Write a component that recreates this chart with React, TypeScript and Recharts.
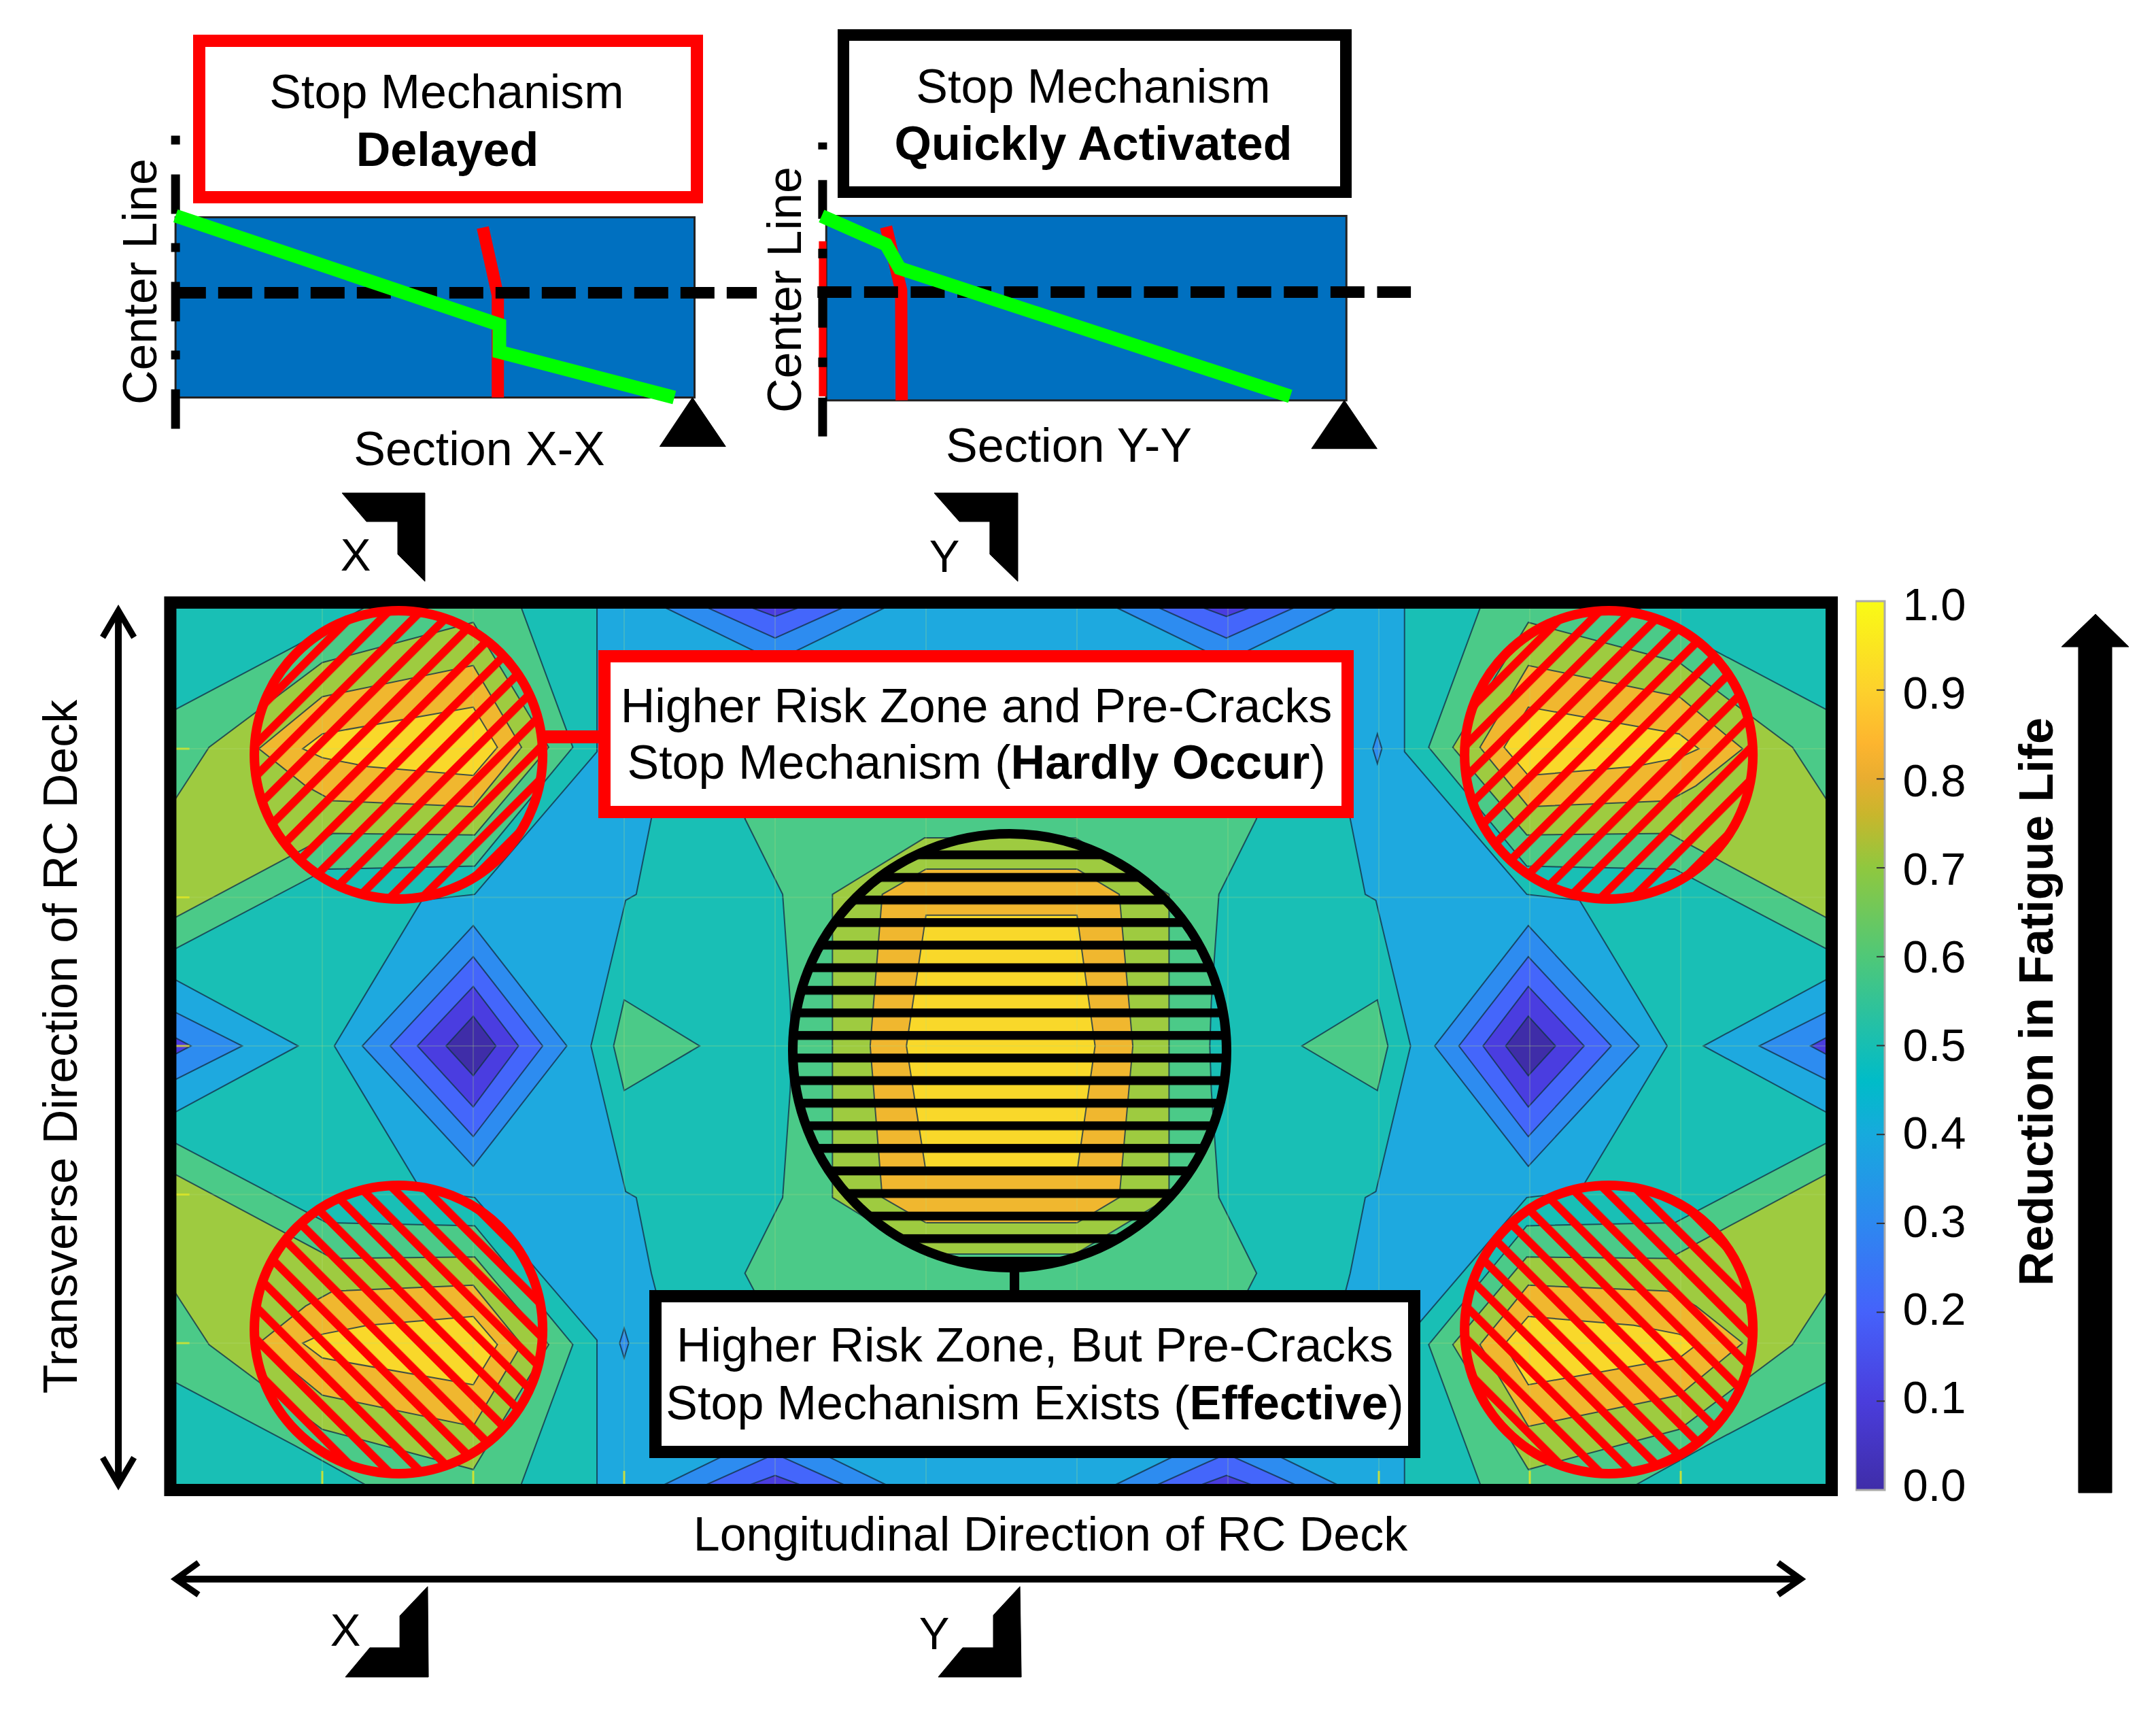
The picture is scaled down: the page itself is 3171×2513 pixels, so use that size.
import { Bar, BarChart, Scatter, ScatterChart, XAxis, YAxis } from "recharts"

type Pt = [number, number]

// contour map is read in grid cells: x = column of the FE mesh, y = row from deck centre
const X_DOMAIN: Pt = [-1.13514, 13.14865]
const Y_DOMAIN: Pt = [-4.46224, 7.0389]
const MID_COL = 10.99

const plotArea: Pt[] = [[0, 3], [MID_COL, 3], [MID_COL, -3], [0, -3]]

const skyBand: Pt[] = [
  [2.82, 3], [2.82, 1.98], [2.01, 1.02], [1.66, 0.98], [1.08, 0], [1.66, -0.98], [2.01, -1.02], [2.82, -1.98], [2.82, -3],
  [8.17, -3], [8.17, -1.98], [8.98, -1.02], [9.33, -0.98], [9.91, 0], [9.33, 0.98], [8.98, 1.02], [8.17, 1.98], [8.17, 3],
]
const midPocket: Pt[] = [
  [2.78, 0], [3.01, 0.98], [3.08, 1.02], [3.18, 1.53], [3.35, 2.2], [3.7, 2.5], [7.29, 2.5], [7.64, 2.2], [7.81, 1.53], [7.91, 1.02], [7.98, 0.98], [8.21, 0],
  [7.98, -0.98], [7.91, -1.02], [7.81, -1.53], [7.64, -2.2], [7.29, -2.5], [3.7, -2.5], [3.35, -2.2], [3.18, -1.53], [3.08, -1.02], [3.01, -0.98],
]
const midGreen: Pt[] = [
  [3.8, 1.53], [4.05, 1.02], [4.1, 0.3], [4.11, 0], [4.1, -0.3], [4.05, -1.02], [3.8, -1.53], [4.2, -2.3], [6.8, -2.3], [7.19, -1.53],
  [6.94, -1.02], [6.89, -0.3], [6.88, 0], [6.89, 0.3], [6.94, 1.02], [7.19, 1.53], [6.8, 2.3], [4.2, 2.3],
]
const midOlive: Pt[] = [[4.38, 1.02], [4.99, 1.4], [5.99, 1.4], [6.61, 1.02], [6.61, -1.02], [5.99, -1.4], [4.99, -1.4], [4.38, -1.02]]
const midOrange: Pt[] = [[5, 1.19], [6, 1.19], [6.28, 1.02], [6.37, 0], [6.28, -1.02], [6, -1.19], [5, -1.19], [4.71, -1.02], [4.63, 0], [4.71, 1.02]]
const midYellow: Pt[] = [[5, 0.88], [6, 0.88], [6.12, 0], [6, -0.85], [5, -0.85], [4.87, 0]]
const sideGreen: Pt[] = [[3, 0.31], [3.5, 0], [3, -0.3], [2.93, 0]]
const smallDot: Pt[] = [[2.97, -2], [3, -1.9], [3.03, -2], [3, -2.1]]

const diamondBlue: Pt[] = [[1.265, 0], [2, 0.81], [2.62, 0], [2, -0.81]]
const diamondIndigo: Pt[] = [[1.45, 0], [2, 0.6], [2.46, 0], [2, -0.61]]
const diamondViolet: Pt[] = [[1.63, 0], [2, 0.4], [2.3, 0], [2, -0.41]]
const diamondDark: Pt[] = [[1.82, 0], [2, 0.2], [2.15, 0], [2, -0.2]]

const cornerGreen: Pt[] = [[0, 2.25], [0.82, 2.69], [1.37, 3], [2.3, 3], [2.62, 2.12], [2.66, 2.01], [2.01, 1.21], [1.03, 1.19], [0, 0.64]]
const cornerOlive: Pt[] = [[0, 1.62], [0.25, 2.01], [1, 2.58], [2, 2.85], [2.5, 2.01], [2.01, 1.42], [1.07, 1.43], [0, 0.85]]
const cornerOrange: Pt[] = [[0.58, 2], [1, 2.35], [2, 2.56], [2.32, 2.01], [2, 1.61], [1.07, 1.65], [0.89, 1.75]]
const cornerYellow: Pt[] = [[0.87, 2], [1, 2.1], [2, 2.28], [2.16, 2.01], [2, 1.82], [1.3, 1.88], [1, 1.94]]

const edgeSky: Pt[] = [[0, 0.46], [0.84, 0], [0, -0.46]]
const edgeBlue: Pt[] = [[0, 0.24], [0.47, 0], [0, -0.24]]
const edgeIndigo: Pt[] = [[0, 0.07], [0.13, 0], [0, -0.07]]
const rimBlue: Pt[] = [[3.17, 3], [4, 2.59], [4.83, 3]]
const rimIndigo: Pt[] = [[3.44, 3], [4, 2.745], [4.56, 3]]
const rimViolet: Pt[] = [[3.71, 3], [4, 2.89], [4.29, 3]]

const gridCols = [1, 2, 3, 4, 5, 6, 7, 8, 9, 10]
const gridRows = [2, 1, 0, -1, -2]

const riskCentres: { x: number; y: number; hatch: string }[] = [
  { x: 1.505, y: 1.959, hatch: "url(#hatchUpL)" },
  { x: 9.523, y: 1.959, hatch: "url(#hatchUpR)" },
  { x: 1.505, y: -1.908, hatch: "url(#hatchDownL)" },
  { x: 9.523, y: -1.908, hatch: "url(#hatchDownR)" },
]
const stopCentre = { x: 5.554, y: -0.032 }

const frame: Pt[] = [[-0.007, 2.984], [11, 2.984], [11, -2.988], [-0.007, -2.988]]
const redLink: Pt[] = [[2.47, 2.08], [2.9, 2.08]]
const blackLink: Pt[] = [[5.586, -1.474], [5.586, -1.66]]

const markerTopX: Pt[] = [[1.131, 3.721], [1.68, 3.721], [1.68, 3.126], [1.5, 3.309], [1.5, 3.529], [1.293, 3.529]]
const markerTopY: Pt[] = [[5.054, 3.721], [5.608, 3.721], [5.608, 3.126], [5.423, 3.309], [5.423, 3.529], [5.221, 3.529]]
const markerBottomX: Pt[] = [[1.698, -3.638], [1.703, -4.247], [1.153, -4.247], [1.315, -4.05], [1.514, -4.05], [1.514, -3.835]]
const markerBottomY: Pt[] = [[5.622, -3.638], [5.631, -4.247], [5.081, -4.247], [5.243, -4.05], [5.446, -4.05], [5.446, -3.831]]

const lengthShaft: Pt[] = [[0.04, -3.588], [10.79, -3.588]]
const lengthHeadL: Pt[] = [[0.18, -3.478], [0.03, -3.588], [0.18, -3.693]]
const lengthHeadR: Pt[] = [[10.645, -3.478], [10.795, -3.588], [10.645, -3.693]]
const widthShaft: Pt[] = [[-0.351, 2.9], [-0.351, -2.92]]
const widthHeadT: Pt[] = [[-0.455, 2.75], [-0.351, 2.93], [-0.247, 2.75]]
const widthHeadB: Pt[] = [[-0.455, -2.77], [-0.351, -2.95], [-0.247, -2.77]]
const lifeArrow: Pt[] = [[12.635, -3.007], [12.635, 2.686], [12.523, 2.686], [12.748, 2.906], [12.968, 2.686], [12.856, 2.686], [12.856, -3.007]]

// beam sections: x = fraction of the half span, y = fraction of the deck depth
const deckShape: Pt[] = [[0, 0], [1, 0], [1, 1], [0, 1]]
const sectionXGreen: Pt[] = [[0, 1.008], [0.624, 0.404], [0.624, 0.253], [0.961, 0]]
const sectionXRed: Pt[] = [[0.592, 0.943], [0.621, 0.566], [0.621, 0]]
const sectionXMid: Pt[] = [[-0.007, 0.581], [1.12, 0.581]]
const sectionXAxis: Pt[] = [[0, -0.174], [0, 1.453]]
const sectionXSupport: Pt[] = [[0.996, 0], [0.933, -0.272], [1.06, -0.272]]

const sectionYGreen: Pt[] = [[-0.009, 1], [0.115, 0.845], [0.141, 0.716], [0.892, 0.022]]
const sectionYRed: Pt[] = [[0.115, 0.941], [0.144, 0.598], [0.145, 0]]
const sectionYEdge: Pt[] = [[-0.007, 0.863], [-0.007, 0.022]]
const sectionYMid: Pt[] = [[-0.017, 0.587], [1.124, 0.587]]
const sectionYAxis: Pt[] = [[-0.007, -0.196], [-0.007, 1.399]]
const sectionYSupport: Pt[] = [[0.996, 0], [0.933, -0.262], [1.059, -0.262]]

const colorTicks = [0, 0.1, 0.2, 0.3, 0.4, 0.5, 0.6, 0.7, 0.8, 0.9, 1]
const colorStops: [number, string][] = [
  [0, "#3f2da8"], [0.1, "#4a3ddc"], [0.2, "#4562fb"], [0.3, "#2d88f0"], [0.4, "#17aadd"], [0.46, "#00bcc8"], [0.52, "#22c0a8"],
  [0.6, "#4fc878"], [0.7, "#8fc83f"], [0.76, "#c9b62c"], [0.8, "#e8ad30"], [0.84, "#fdb52f"], [0.9, "#fdd12c"], [1, "#f9fb15"],
]

const TEAL = "#19bfb5"
const SKY = "#1ea9df"
const BLUE = "#2d8cf0"
const INDIGO = "#4466fb"
const VIOLET = "#4a3de0"
const DARK = "#3f2da8"
const GREEN = "#4bca88"
const OLIVE = "#9ecb40"
const ORANGE = "#f0b72f"
const YELLOW = "#f9d82a"
const EDGE = "#14324a"

const FONT = "'Liberation Sans', Arial, sans-serif"

const flipX = (pts: Pt[]): Pt[] => pts.map(([x, y]) => [MID_COL - x, y])
const flipY = (pts: Pt[]): Pt[] => pts.map(([x, y]) => [x, -y])
const allFour = (pts: Pt[]) => [pts, flipX(pts), flipY(pts), flipX(flipY(pts))]

const noDot = () => <g />

function shape(key: string, pts: Pt[], fill: string, stroke = EDGE, width = 2, extra: object = {}, closed = true) {
  return (
    <Scatter
      key={key}
      data={pts.map(([x, y]) => ({ x, y }))}
      shape={noDot}
      isAnimationActive={false}
      lineJointType={closed ? "linearClosed" : "linear"}
      line={{ fill, stroke, strokeWidth: width, ...extra }}
    />
  )
}

const band = (key: string, pts: Pt[], fill: string) => shape(key, pts, fill, EDGE, 2, { strokeOpacity: 0.8 })
const poly = (key: string, pts: Pt[], fill: string) => shape(key, pts, fill, fill, 1)
const stroke = (key: string, pts: Pt[], color: string, width: number, extra: object = {}) =>
  shape(key, pts, "none", color, width, extra, false)

function Label({ x, y, children, size = 70, vertical = false }: { x: number; y: number; children: any; size?: number; vertical?: boolean }) {
  // x,y: centre of the text along its run, and its baseline
  const up = 0.8465 * size
  const style: any = {
    position: "absolute",
    fontFamily: FONT,
    fontSize: size,
    lineHeight: 1,
    whiteSpace: "nowrap",
    color: "#000",
  }
  if (vertical) {
    style.left = x - up + size / 2
    style.top = y
    style.transform = "translate(-50%, -50%) rotate(-90deg)"
  } else {
    style.left = x
    style.top = y - up
    style.transform = "translateX(-50%)"
  }
  return <div style={style}>{children}</div>
}

function Box({ left, top, right, bottom, color, bw }: { left: number; top: number; right: number; bottom: number; color: string; bw: number }) {
  return (
    <div
      style={{
        position: "absolute",
        left,
        top,
        width: right - left,
        height: bottom - top,
        boxSizing: "border-box",
        border: `${bw}px solid ${color}`,
        background: "#fff",
      }}
    />
  )
}

function ContourMap() {
  return (
    <div style={{ position: "absolute", left: 0, top: 0 }}>
      <ScatterChart width={3171} height={2513} margin={{ top: 0, right: 0, bottom: 0, left: 0 }}>
        <defs>
          <pattern id="hatchUpL" patternUnits="userSpaceOnUse" width="33.25" height="33.25" patternTransform="translate(0 1650.2) rotate(45)">
            <rect width="12" height="33.25" fill="#ff0000" />
          </pattern>
          <pattern id="hatchUpR" patternUnits="userSpaceOnUse" width="33.25" height="33.25" patternTransform="translate(0 3431.2) rotate(45)">
            <rect width="12" height="33.25" fill="#ff0000" />
          </pattern>
          <pattern id="hatchDownL" patternUnits="userSpaceOnUse" width="33.25" height="33.25" patternTransform="translate(0 1412.8) rotate(-45)">
            <rect width="12" height="33.25" fill="#ff0000" />
          </pattern>
          <pattern id="hatchDownR" patternUnits="userSpaceOnUse" width="33.25" height="33.25" patternTransform="translate(0 -367.8) rotate(-45)">
            <rect width="12" height="33.25" fill="#ff0000" />
          </pattern>
          <pattern id="hatchFlat" patternUnits="userSpaceOnUse" width="20" height="33.2" x="0" y="1250.5">
            <rect width="20" height="13" fill="#000" />
          </pattern>
        </defs>
        <XAxis type="number" dataKey="x" domain={X_DOMAIN} hide />
        <YAxis type="number" dataKey="y" domain={Y_DOMAIN} hide />

        {poly("bg", plotArea, TEAL)}
        {band("sky", skyBand, SKY)}
        {band("pocket", midPocket, TEAL)}
        {band("midGreen", midGreen, GREEN)}
        {band("midOlive", midOlive, OLIVE)}
        {band("midOrange", midOrange, ORANGE)}
        {band("midYellow", midYellow, YELLOW)}
        {band("sideL", sideGreen, GREEN)}
        {band("sideR", flipX(sideGreen), GREEN)}
        {band("dotL", smallDot, BLUE)}
        {band("dotR", flipX(flipY(smallDot)), BLUE)}

        {[flipX, (p: Pt[]) => p].flatMap((f, i) => [
          band(`dBlue${i}`, f(diamondBlue), BLUE),
          band(`dIndigo${i}`, f(diamondIndigo), INDIGO),
          band(`dViolet${i}`, f(diamondViolet), VIOLET),
          band(`dDark${i}`, f(diamondDark), DARK),
          band(`eSky${i}`, f(edgeSky), SKY),
          band(`eBlue${i}`, f(edgeBlue), BLUE),
          band(`eIndigo${i}`, f(edgeIndigo), VIOLET),
        ])}

        {allFour(cornerGreen).map((p, i) => band(`cG${i}`, p, GREEN))}
        {allFour(cornerOlive).map((p, i) => band(`cO${i}`, p, OLIVE))}
        {allFour(cornerOrange).map((p, i) => band(`cR${i}`, p, ORANGE))}
        {allFour(cornerYellow).map((p, i) => band(`cY${i}`, p, YELLOW))}
        {allFour(rimBlue).map((p, i) => band(`rB${i}`, p, BLUE))}
        {allFour(rimIndigo).map((p, i) => band(`rI${i}`, p, INDIGO))}
        {allFour(rimViolet).map((p, i) => band(`rV${i}`, p, VIOLET))}

        {gridCols.map((c) => stroke(`gc${c}`, [[c, 3], [c, -3]], "#b8e07a", 2, { strokeOpacity: 0.22 }))}
        {gridRows.map((r) => stroke(`gr${r}`, [[0, r], [MID_COL, r]], "#b8e07a", 2, { strokeOpacity: 0.22 }))}
        {[1, 2, 3, 8, 9, 10].map((c) => stroke(`tk${c}`, [[c, -2.95], [c, -2.86]], "#e8e81e", 3, { strokeOpacity: 0.8 }))}
        {[2, 1, 0, -1, -2].map((r) => stroke(`tl${r}`, [[0.03, r], [0.12, r]], "#e8e81e", 3, { strokeOpacity: 0.7 }))}

        {shape("frame", frame, "none", "#000", 18)}

        {stroke("redLink", redLink, "#ff0000", 19)}
        {stroke("blackLink", blackLink, "#000", 14)}

        <Scatter
          data={riskCentres}
          isAnimationActive={false}
          shape={(p: any) => <circle cx={p.cx} cy={p.cy} r={212} fill={p.payload.hatch} stroke="#ff0000" strokeWidth={14} />}
        />
        <Scatter
          data={[stopCentre]}
          isAnimationActive={false}
          shape={(p: any) => <circle cx={p.cx} cy={p.cy} r={319} fill="url(#hatchFlat)" stroke="#000" strokeWidth={14} />}
        />

        {shape("mTX", markerTopX, "#000", "#000", 1)}
        {shape("mTY", markerTopY, "#000", "#000", 1)}
        {shape("mBX", markerBottomX, "#000", "#000", 1)}
        {shape("mBY", markerBottomY, "#000", "#000", 1)}

        {stroke("lenS", lengthShaft, "#000", 10)}
        {stroke("lenL", lengthHeadL, "#000", 9)}
        {stroke("lenR", lengthHeadR, "#000", 9)}
        {stroke("widS", widthShaft, "#000", 10)}
        {stroke("widT", widthHeadT, "#000", 9)}
        {stroke("widB", widthHeadB, "#000", 9)}
        {shape("life", lifeArrow, "#000", "#000", 1)}
      </ScatterChart>
    </div>
  )
}

function Section({
  left, top, width, height, green, red, edge, mid, axis, support, midDash, axisDash,
}: {
  left: number; top: number; width: number; height: number; green: Pt[]; red: Pt[]; edge?: Pt[]; mid: Pt[]; axis: Pt[]; support: Pt[]; midDash: string; axisDash: string
}) {
  return (
    <div style={{ position: "absolute", left, top }}>
      <ScatterChart width={width} height={height} margin={{ top: 0, right: 0, bottom: 0, left: 0 }}>
        <XAxis type="number" dataKey="x" domain={[-0.05, 1.15]} hide />
        <YAxis type="number" dataKey="y" domain={[-0.3, 1.5]} hide />
        {shape("deck", deckShape, "#0070c0", "#222", 3)}
        {edge ? stroke("edge", edge, "#ff0000", 11) : null}
        {stroke("axis", axis, "#000", 13, { strokeDasharray: axisDash })}
        {stroke("red", red, "#ff0000", 18)}
        {stroke("mid", mid, "#000", 17, { strokeDasharray: midDash })}
        {stroke("green", green, "#00ff00", 20)}
        {shape("support", support, "#000", "#000", 1)}
      </ScatterChart>
    </div>
  )
}

function ColorBar() {
  return (
    <div style={{ position: "absolute", left: 2729, top: 844 }}>
      <BarChart
        width={190}
        height={1387}
        data={[{ name: "scale", span: 1 }]}
        barCategoryGap={0}
        margin={{ top: 40, right: 0, bottom: 40, left: 0 }}
      >
        <defs>
          <linearGradient id="parula" x1="0" y1="1" x2="0" y2="0">
            {colorStops.map(([v, c]) => (
              <stop key={v} offset={v} stopColor={c} />
            ))}
          </linearGradient>
        </defs>
        <XAxis dataKey="name" hide />
        <YAxis
          orientation="right"
          width={147}
          domain={[0, 1]}
          ticks={colorTicks}
          interval={0}
          axisLine={false}
          tickLine={false}
          tickSize={0}
          tickMargin={0}
          tick={(p: any) => (
            <g>
              {p.payload.value > 0 && p.payload.value < 1 ? (
                <line x1={p.x - 12} x2={p.x} y1={p.y} y2={p.y} stroke="#333" strokeWidth={2} />
              ) : null}
              {/* the printed labels sit on a slightly tighter pitch than the bar */}
              <text x={p.x + 73} y={p.y + 24 + 4 - 12 * (1 - p.payload.value)} textAnchor="middle" fontSize={67} fontFamily={FONT} fill="#000">
                {p.payload.value.toFixed(1)}
              </text>
            </g>
          )}
        />
        <Bar dataKey="span" fill="url(#parula)" stroke="#aaa" strokeWidth={3} isAnimationActive={false} />
      </BarChart>
    </div>
  )
}

export default function App() {
  return (
    <div style={{ position: "absolute", left: 0, top: 0, width: 3171, height: 2513, background: "#fff", overflow: "hidden" }}>
      <ContourMap />
      <Section
        left={220} top={187} width={916} height={477}
        green={sectionXGreen} red={sectionXRed} mid={sectionXMid} axis={sectionXAxis} support={sectionXSupport}
        midDash="50 18" axisDash="58 44 13 43"
      />
      <Section
        left={1177} top={182} width={918} height={488}
        green={sectionYGreen} red={sectionYRed} edge={sectionYEdge} mid={sectionYMid} axis={sectionYAxis} support={sectionYSupport}
        midDash="50 18.6" axisDash="57 45 14 44"
      />
      <ColorBar />

      <Box left={284} top={51} right={1034} bottom={299} color="#ff0000" bw={18} />
      <Box left={1232} top={43} right={1988} bottom={291} color="#000" bw={17} />
      <Box left={880} top={956} right={1991} bottom={1203} color="#ff0000" bw={18} />
      <Box left={955} top={1897} right={2089} bottom={2144} color="#000" bw={18} />

      <Label x={657} y={159}>Stop Mechanism</Label>
      <Label x={658} y={244}><b>Delayed</b></Label>
      <Label x={1608} y={151}>Stop Mechanism</Label>
      <Label x={1608} y={235}><b>Quickly Activated</b></Label>
      <Label x={705} y={684}>Section X-X</Label>
      <Label x={1572} y={679}>Section Y-Y</Label>
      <Label x={230} y={414} vertical>Center Line</Label>
      <Label x={1178} y={426} vertical>Center Line</Label>
      <Label x={523} y={839} size={67}>X</Label>
      <Label x={1389} y={841} size={67}>Y</Label>
      <Label x={508} y={2420} size={67}>X</Label>
      <Label x={1374} y={2425} size={67}>Y</Label>
      <Label x={1436} y={1062}>Higher Risk Zone and Pre-Cracks</Label>
      <Label x={1436} y={1145}>Stop Mechanism (<b>Hardly Occur</b>)</Label>
      <Label x={1522} y={2002}>Higher Risk Zone, But Pre-Cracks</Label>
      <Label x={1522} y={2087}>Stop Mechanism Exists (<b>Effective</b>)</Label>
      <Label x={1545} y={2280}>Longitudinal Direction of RC Deck</Label>
      <Label x={113} y={1539} vertical>Transverse Direction of RC Deck</Label>
      <Label x={3019} y={1473} vertical><b>Reduction in Fatigue Life</b></Label>
    </div>
  )
}
